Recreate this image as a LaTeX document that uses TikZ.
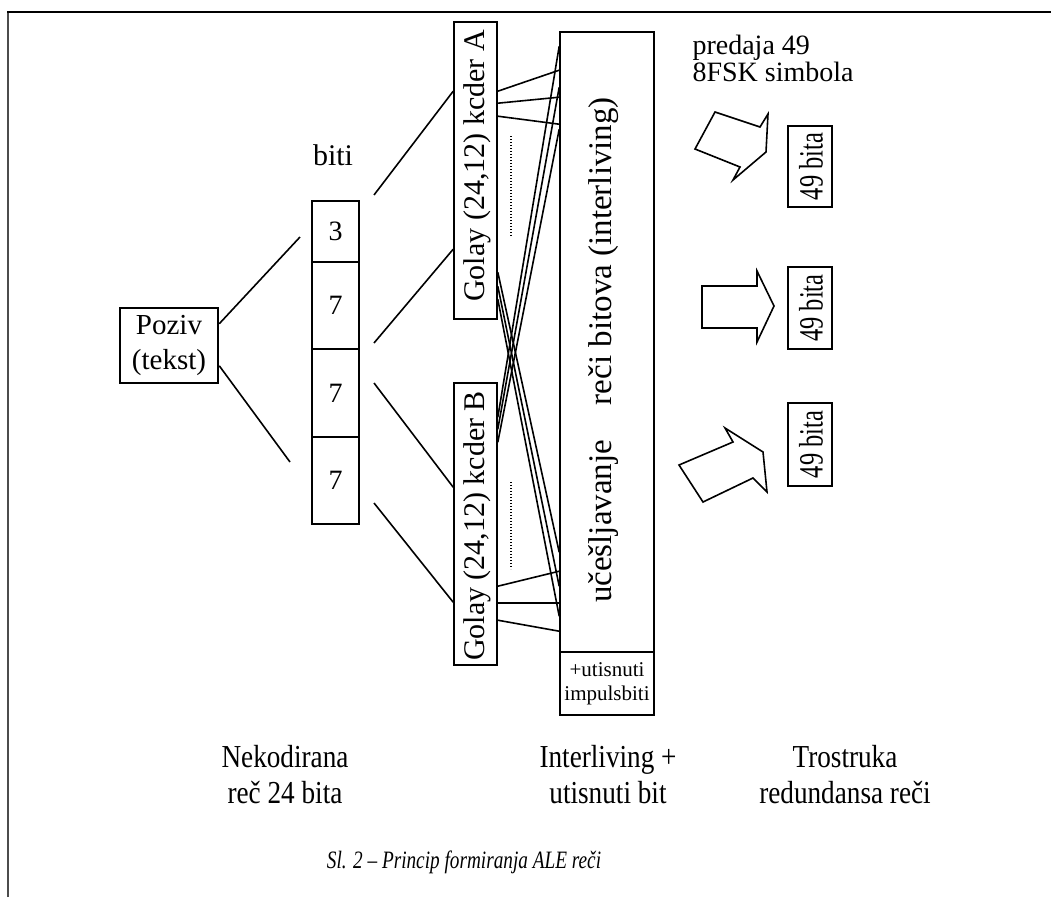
\documentclass[tikz,border=0pt]{standalone}
\usepackage{fontspec}
\setmainfont{Liberation Serif}
\newfontfamily\condfont[FakeStretch=0.85]{Liberation Serif}
\newfontfamily\narrowfont[FakeStretch=0.72]{Liberation Serif}
\newfontfamily\capfont[FakeStretch=0.77]{Liberation Serif}
\newcommand{\myfs}[2]{\fontsize{#1}{#2}\selectfont}
\usetikzlibrary{calc}
\begin{document}
\begin{tikzpicture}[x=1pt,y=-1pt,
  box/.style={draw, line width=1.6pt, inner sep=0pt},
  lnk/.style={line width=1.6pt},
  arrowshape/.style={draw, line width=1.6pt, fill=white, line join=miter},
  dotline/.style={line width=1.2pt, dash pattern=on 1.2pt off 1.8pt},
  lbl/.style={font=\myfs{28}{34}},
  bottomlbl/.style={align=center, font=\condfont\myfs{32}{36}}]
\useasboundingbox (0,0) rectangle (1051,897);
\draw[line width=2pt, draw=black!70] (8,897) -- (8,12);
\draw[line width=2pt] (7,12) -- (1051,12);

% Poziv
\node[box, line width=2.5pt, minimum width=98pt, minimum height=75pt, align=center, font=\myfs{29}{35}] (pz) at (169,345.5) {Poziv\\(tekst)};

% bit column
\node[box, minimum width=47pt, minimum height=61pt, lbl] (b1) at (335.5,231.5) {3};
\node[box, minimum width=47pt, minimum height=87pt, lbl] (b2) at (335.5,305.5) {7};
\node[box, minimum width=47pt, minimum height=88pt, lbl] (b3) at (335.5,393) {7};
\node[box, minimum width=47pt, minimum height=87pt, lbl] (b4) at (335.5,480.5) {7};
\node[font=\myfs{30}{34}] (biti) at (333,155) {biti};

% Golay coders
\node[box, minimum width=43pt, minimum height=297pt] (gA) at (475.5,170.5) {};
\node[rotate=90, font=\myfs{30}{34}] (gAt) at (477,166) {Golay (24,12) kcder A};
\node[box, minimum width=43pt, minimum height=282pt] (gB) at (475.5,524) {};
\node[rotate=90, font=\myfs{30}{34}] (gBt) at (477,526) {Golay (24,12) kcder B};

% interleaver
\node[box, minimum width=94pt, minimum height=620pt] (il) at (607,342) {};
\node[rotate=90, font=\myfs{33}{36}] (ilt) at (604,350) {učešljavanje\hspace{0.8em} reči bitova (interliving)};
\node[box, minimum width=94pt, minimum height=63pt, align=center, font=\myfs{21}{24}] (ib) at (607,683.5) {+utisnuti\\impulsbiti};

% 49 bita boxes
\node[box, minimum width=44pt, minimum height=81pt] (r1) at (810,166.5) {};
\node[rotate=90, font=\narrowfont\myfs{34}{36}] (r1t) at (811,166.5) {49 bita};
\node[box, minimum width=44pt, minimum height=82pt] (r2) at (810,308) {};
\node[rotate=90, font=\narrowfont\myfs{34}{36}] (r2t) at (811,308) {49 bita};
\node[box, minimum width=44pt, minimum height=83pt] (r3) at (810,444.5) {};
\node[rotate=90, font=\narrowfont\myfs{34}{36}] (r3t) at (811,444.5) {49 bita};

% free ends
\coordinate (c1) at (300,237);
\coordinate (c2) at (290,462);
\coordinate (d1) at (374,195);
\coordinate (d2) at (374,343);
\coordinate (d3) at (374,383);
\coordinate (d4) at (374,503);

% connectors left
\draw[lnk] ([yshift=-17pt]pz.north east) -- (c1);
\draw[lnk] ([yshift=-59pt]pz.north east) -- (c2);
\draw[lnk] (d1) -- ([yshift=-70pt]gA.north west);
\draw[lnk] (d2) -- ([yshift=-228pt]gA.north west);
\draw[lnk] (d3) -- ([yshift=-105pt]gB.north west);
\draw[lnk] (d4) -- ([yshift=-220pt]gB.north west);

% Golay A to interleaver
\draw[lnk] ([yshift=-70pt]gA.north east) -- ([yshift=-39pt]il.north west);
\draw[lnk] ([yshift=-82pt]gA.north east) -- ([yshift=-66pt]il.north west);
\draw[lnk] ([yshift=-95pt]gA.north east) -- ([yshift=-93pt]il.north west);
\draw[lnk] ([yshift=-251pt]gA.north east) -- ([yshift=-521pt]il.north west);
\draw[lnk] ([yshift=-265pt]gA.north east) -- ([yshift=-555pt]il.north west);
\draw[lnk] ([yshift=-278pt]gA.north east) -- ([yshift=-585pt]il.north west);

% Golay B to interleaver
\draw[lnk] ([yshift=-35pt]gB.north east) -- ([yshift=-15pt]il.north west);
\draw[lnk] ([yshift=-47pt]gB.north east) -- ([yshift=-56pt]il.north west);
\draw[lnk] ([yshift=-60pt]gB.north east) -- ([yshift=-98pt]il.north west);
\draw[lnk] ([yshift=-204pt]gB.north east) -- ([yshift=-540pt]il.north west);
\draw[lnk] ([yshift=-221pt]gB.north east) -- ([yshift=-572pt]il.north west);
\draw[lnk] ([yshift=-238pt]gB.north east) -- ([yshift=-600pt]il.north west);

% dotted
\draw[dotline] (511,136) -- (511,236);
\draw[dotline] (511,482) -- (511,569);

% block arrows
\draw[arrowshape] (715,112) -- (760,127) -- (768,114) -- (766,152) -- (733,180) -- (740,167) -- (695,149) -- cycle;
\draw[arrowshape] (702,286) -- (757,286) -- (757,271) -- (774,306) -- (757,342) -- (757,328) -- (702,328) -- cycle;
\draw[arrowshape] (679,465) -- (733,442) -- (725,428) -- (763,452) -- (767,492) -- (753,478) -- (703,502) -- cycle;

% texts
\node[anchor=north west, align=left, font=\myfs{28}{25}] (pred) at (689,32) {predaja 49\\8FSK simbola};
\node[bottomlbl] (l1) at (285,775) {Nekodirana\\reč 24 bita};
\node[bottomlbl] (l2) at (608,775) {Interliving +\\utisnuti bit};
\node[bottomlbl] (l3) at (845,775) {Trostruka\\redundansa reči};
\node[font=\capfont\itshape\myfs{25}{28}] (cap) at (464,862) {Sl. 2 – Princip formiranja ALE reči};
\end{tikzpicture}
\end{document}
